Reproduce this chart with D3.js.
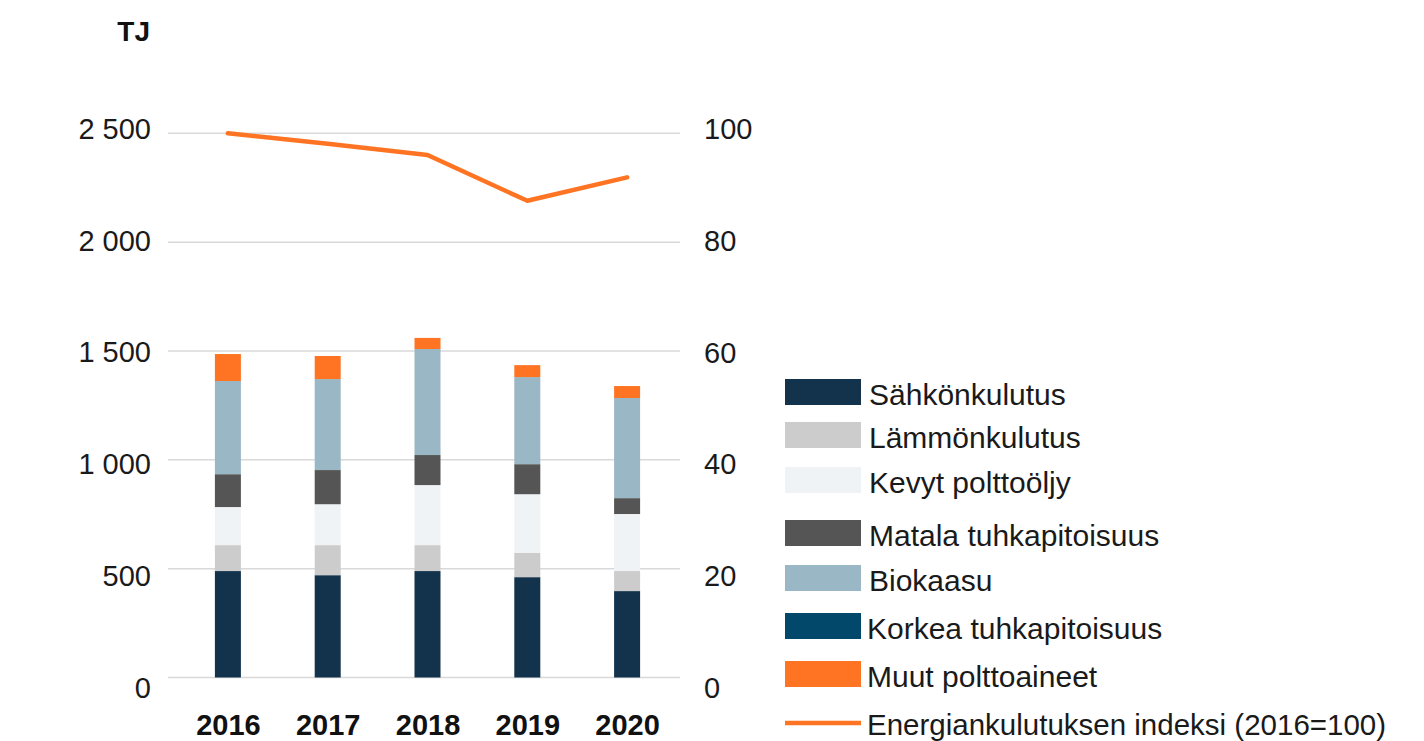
<!DOCTYPE html>
<html>
<head>
<meta charset="utf-8">
<script src="https://cdn.jsdelivr.net/npm/d3@7"></script>
<style>
  html, body { margin: 0; padding: 0; background: #fff; }
  svg { display: block; font-family: "Liberation Sans", Arial, sans-serif; }
</style>
</head>
<body>
<svg id="chart" width="1424" height="741"></svg>
<script>
// Energy consumption by source (TJ), stacked per year, plus consumption index (2016=100)
const years = ["2016", "2017", "2018", "2019", "2020"];

const sahkonkulutus       = [489, 470, 489, 461, 397];
const lammonkulutus       = [119, 138, 119, 111, 92];
const kevytPolttooljy     = [175, 188, 276, 270, 262];
const matalaTuhkapitoisuus = [151, 157, 138, 138, 73];
const biokaasu            = [428, 418, 487, 400, 460];
const korkeaTuhkapitoisuus = [0, 0, 0, 0, 0];
const muutPolttoaineet    = [124, 106, 51, 55, 55];

const indeksi = [100, 98.1, 96.0, 87.6, 91.9];

const leftTicks = [0, 500, 1000, 1500, 2000, 2500];
const rightTicks = [0, 20, 40, 60, 80, 100];

const seriesNames = [
  "Sähkönkulutus", "Lämmönkulutus", "Kevyt polttoöljy", "Matala tuhkapitoisuus",
  "Biokaasu", "Korkea tuhkapitoisuus", "Muut polttoaineet"
];
const seriesValues = [
  sahkonkulutus, lammonkulutus, kevytPolttooljy, matalaTuhkapitoisuus,
  biokaasu, korkeaTuhkapitoisuus, muutPolttoaineet
];
const seriesColors = ["#12334b", "#cccccc", "#eff3f6", "#555555", "#9ab7c5", "#02486a", "#ff7422"];
const lineName = "Energiankulutuksen indeksi (2016=100)";
const lineColor = "#ff7422";

const svg = d3.select("#chart");
const textColor = "#1a1a1a";

// Build table rows for stacking
const rows = years.map((y, i) => {
  const r = { year: y };
  seriesNames.forEach((n, k) => { r[n] = seriesValues[k][i]; });
  return r;
});
const stacked = d3.stack().keys(seriesNames)(rows);

// Scales
const x = d3.scalePoint().domain(years).range([178, 677]).padding(0.5);
const barW = 26;
const yL = d3.scaleLinear().domain([0, 2500]).range([677.5, 133.3]);
const yR = d3.scaleLinear().domain([0, 100]).range([677.5, 133.3]);
// Tick labels sit on their own, slightly wider spacing (text baselines)
const yLabelL = d3.scaleLinear().domain([0, 2500]).range([697.3, 138.4]);
const yLabelR = d3.scaleLinear().domain([0, 100]).range([697.3, 138.8]);

// Gridlines
svg.append("g").selectAll("line").data(leftTicks).join("line")
  .attr("x1", 168).attr("x2", 680)
  .attr("y1", d => yL(d)).attr("y2", d => yL(d))
  .attr("stroke", "#d9d9d9").attr("stroke-width", 1.5);

// Left axis
const leftAxis = d3.axisLeft(yLabelL).tickValues(leftTicks).tickSize(0).tickPadding(0)
  .tickFormat(d => d3.format(",")(d).replace(/,/g, " "));
const gL = svg.append("g").attr("transform", "translate(151,0)").call(leftAxis);
gL.select(".domain").remove();
gL.selectAll("text").attr("font-size", 29).attr("fill", textColor)
  .attr("font-family", "Liberation Sans, Arial, sans-serif").attr("dy", 0);

// Right axis
const rightAxis = d3.axisRight(yLabelR).tickValues(rightTicks).tickSize(0).tickPadding(0);
const gR = svg.append("g").attr("transform", "translate(704,0)").call(rightAxis);
gR.select(".domain").remove();
gR.selectAll("text").attr("font-size", 29).attr("fill", textColor)
  .attr("font-family", "Liberation Sans, Arial, sans-serif").attr("dy", 0);

// Unit label
svg.append("text").attr("x", 150).attr("y", 41).attr("text-anchor", "end")
  .attr("font-size", 28).attr("font-weight", "bold").attr("fill", "#111").text("TJ");

// Stacked bars
svg.append("g").selectAll("g").data(stacked).join("g")
  .attr("fill", (d, i) => seriesColors[i])
  .selectAll("rect").data(d => d).join("rect")
  .attr("x", d => x(d.data.year) - barW / 2)
  .attr("width", barW)
  .attr("y", d => yL(d[1]))
  .attr("height", d => yL(d[0]) - yL(d[1]));

// Index line
const line = d3.line().x((d, i) => x(years[i])).y(d => yR(d));
svg.append("path").datum(indeksi)
  .attr("d", line).attr("fill", "none")
  .attr("stroke", lineColor).attr("stroke-width", 4.5)
  .attr("stroke-linecap", "round").attr("stroke-linejoin", "round");

// X axis labels
const xAxis = d3.axisBottom(x).tickSize(0).tickPadding(0);
const gX = svg.append("g").attr("transform", "translate(0,735)").call(xAxis);
gX.select(".domain").remove();
gX.selectAll("text").attr("font-size", 29).attr("font-weight", "bold").attr("fill", "#111")
  .attr("font-family", "Liberation Sans, Arial, sans-serif").attr("dy", 0);

// Legend
const legendTops = [379, 422, 467, 520, 565, 613, 661];
const lg = svg.append("g");
seriesNames.forEach((n, i) => {
  lg.append("rect").attr("x", 785).attr("y", legendTops[i]).attr("width", 76).attr("height", 26)
    .attr("fill", seriesColors[i]);
  lg.append("text").attr("x", i >= 5 ? 867 : 869).attr("y", legendTops[i] + 26)
    .attr("font-size", 30).attr("fill", textColor).text(n);
});
lg.append("line").attr("x1", 785).attr("x2", 861).attr("y1", 723).attr("y2", 723)
  .attr("stroke", lineColor).attr("stroke-width", 4.5);
lg.append("text").attr("x", 867).attr("y", 735)
  .attr("font-size", 29.5).attr("fill", textColor).text(lineName);
</script>
</body>
</html>
